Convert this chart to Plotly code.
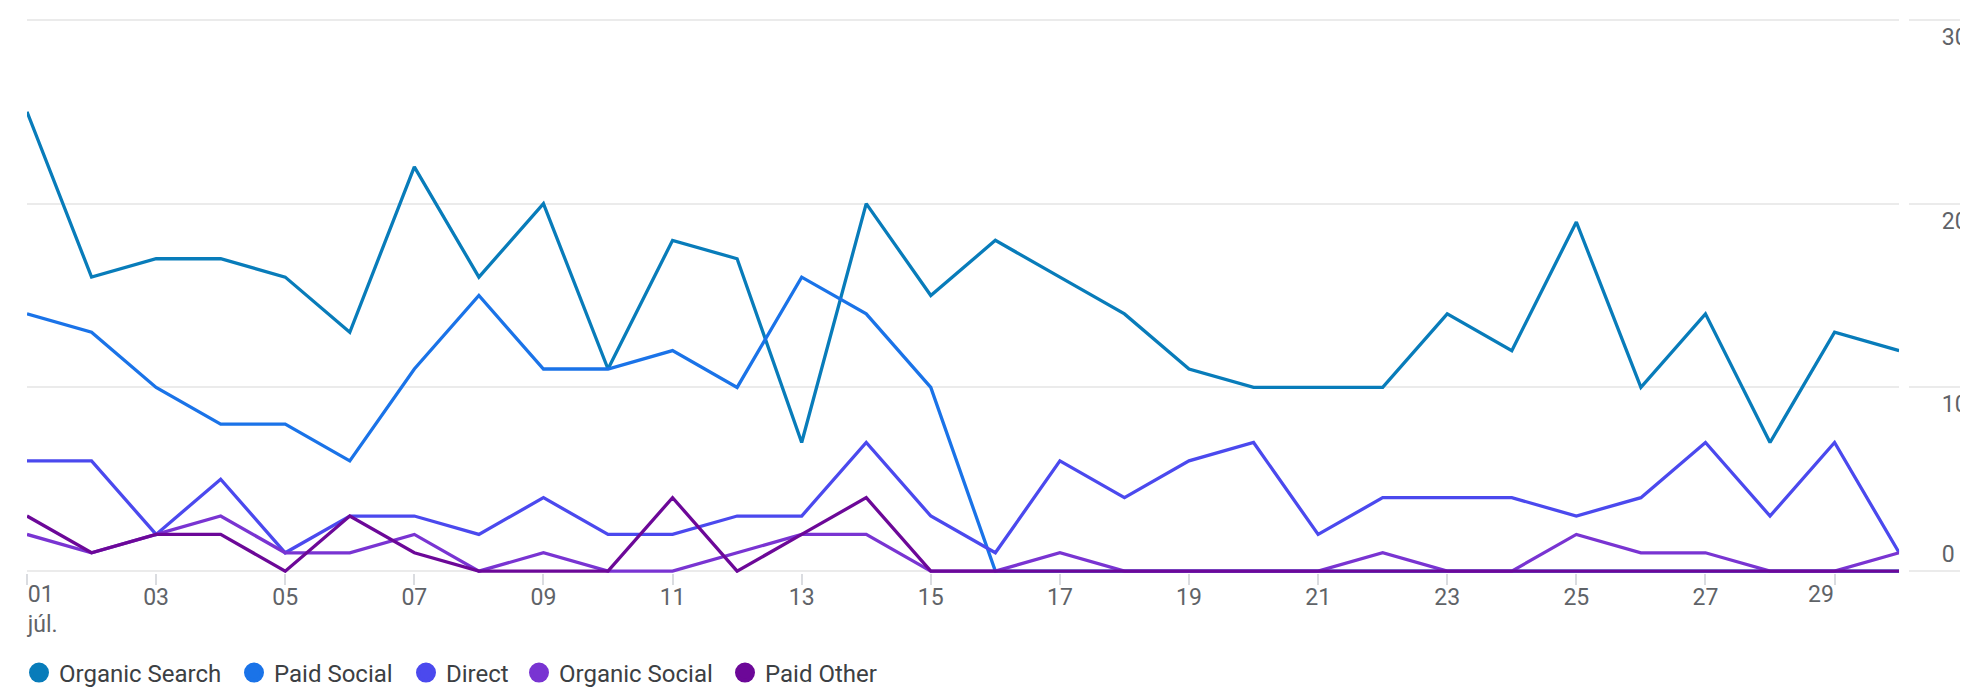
import plotly.graph_objects as go

days = list(range(1, 31))
tick_days = list(range(1, 30, 2))
tick_text = ["01<br>júl."] + [f"{d:02d}" for d in tick_days[1:]]

organic_search = [25, 16, 17, 17, 16, 13, 22, 16, 20, 11, 18, 17, 7, 20, 15, 18, 16, 14, 11, 10, 10, 10, 14, 12, 19, 10, 14, 7, 13, 12]
paid_social = [14, 13, 10, 8, 8, 6, 11, 15, 11, 11, 12, 10, 16, 14, 10, 0, 0, 0, 0, 0, 0, 0, 0, 0, 0, 0, 0, 0, 0, 0]
direct = [6, 6, 2, 5, 1, 3, 3, 2, 4, 2, 2, 3, 3, 7, 3, 1, 6, 4, 6, 7, 2, 4, 4, 4, 3, 4, 7, 3, 7, 1]
organic_social = [2, 1, 2, 3, 1, 1, 2, 0, 1, 0, 0, 1, 2, 2, 0, 0, 1, 0, 0, 0, 0, 1, 0, 0, 2, 1, 1, 0, 0, 1]
paid_other = [3, 1, 2, 2, 0, 3, 1, 0, 0, 0, 4, 0, 2, 4, 0, 0, 0, 0, 0, 0, 0, 0, 0, 0, 0, 0, 0, 0, 0, 0]

series_names = ["Organic Search", "Paid Social", "Direct", "Organic Social", "Paid Other"]
series_values = [organic_search, paid_social, direct, organic_social, paid_other]
colors = ["#087cba", "#1a73e8", "#4b49ee", "#7934d2", "#6c0898"]

y_ticks_main = [10, 20, 30]
y_ticks_zero = [0]
PADU = 0.1
y_range = [-PADU, 30 + PADU]
x_range = [1, 30]

# page body has an 8px margin, so the figure is 8px smaller and offset
OFF = 8
W, H = 1968 - OFF, 689 - OFF
ML = 27 - OFF
plot_right = 1903 - OFF
ext_start = 1912 - OFF
pw = W - ML
x_dom_end = (plot_right - ML) / pw
y_pos = (ext_start - ML) / pw
px_per_unit = (571 - 20) / 30.0
pad_px = PADU * px_per_unit

# legend symbol centres in the page (px)
legend_centres = [36, 251, 423, 536, 742]

GRID = "#ebebeb"
TICKC = "#5f6368"

fig = go.Figure()
for name, vals, c in zip(series_names, series_values, colors):
    fig.add_trace(go.Scatter(x=days, y=vals, mode="lines", name=name,
                             line=dict(color=c, width=3.3), showlegend=False,
                             hoverinfo="skip"))

# legend-only traces (no data); first two also bring the extra tick axes to life
legend_xaxes = ["x2", "x3", "x", "x", "x"]
legend_layout = {}
for i, (name, c, cx) in enumerate(zip(series_names, colors, legend_centres)):
    lname = "legend" if i == 0 else f"legend{i + 1}"
    fig.add_trace(go.Scatter(x=[None], y=[None], mode="markers", name=name,
                             marker=dict(color=c, size=16, line=dict(color=c, width=4)),
                             showlegend=True, legend=lname, xaxis=legend_xaxes[i], yaxis="y2"))
    legend_layout[lname] = dict(orientation="h", xref="container", x=(cx - OFF - 17) / W,
                                xanchor="left", yref="container", y=16 / H, yanchor="middle",
                                font=dict(size=24, color="#3c4043"),
                                bgcolor="rgba(0,0,0,0)", borderwidth=0)

xcommon = dict(domain=[0, x_dom_end], range=x_range,
               ticks="outside", ticklen=11, tickwidth=1.5, tickcolor="#dadce0",
               showgrid=False, zeroline=False, showline=False,
               tickfont=dict(size=23, color=TICKC), anchor="y")

fig.update_layout(
    width=W, height=H,
    margin=dict(l=ML, r=0, t=20 - OFF - pad_px, b=118 - pad_px),
    paper_bgcolor="white", plot_bgcolor="white",
    font=dict(family="Roboto, sans-serif", color=TICKC),
    hovermode=False,
    showlegend=True,
    # middle labels centred on their ticks
    xaxis=dict(**xcommon, tickvals=tick_days[1:-1], ticktext=tick_text[1:-1],
               ticklabelposition="outside", ticklabelstandoff=-8),
    # first label starts at its tick
    xaxis2=dict(**xcommon, overlaying="x", tickvals=tick_days[:1], ticktext=tick_text[:1],
                ticklabelposition="outside right"),
    # last label ends at its tick
    xaxis3=dict(**xcommon, overlaying="x", tickvals=tick_days[-1:], ticktext=tick_text[-1:],
                ticklabelposition="outside left"),
    yaxis=dict(range=y_range, side="right", anchor="free", position=y_pos,
               tickvals=y_ticks_main, ticktext=[str(v) for v in y_ticks_main],
               ticks="outside", ticklen=56, tickwidth=1.5, tickcolor=GRID,
               ticklabelposition="outside bottom", ticklabelstandoff=28,
               showgrid=True, gridcolor=GRID, gridwidth=1.5,
               zeroline=False, showline=False,
               tickfont=dict(size=23, color=TICKC)),
    yaxis2=dict(range=y_range, side="right", anchor="free", position=y_pos,
                overlaying="y",
                tickvals=y_ticks_zero, ticktext=[str(v) for v in y_ticks_zero],
                ticks="outside", ticklen=56, tickwidth=1.5, tickcolor=GRID,
                ticklabelposition="outside top", ticklabelstandoff=28,
                showgrid=True, gridcolor=GRID, gridwidth=1.5,
                zeroline=False, showline=False,
                tickfont=dict(size=23, color=TICKC)),
    **legend_layout,
)

fig.write_html("out.html")
